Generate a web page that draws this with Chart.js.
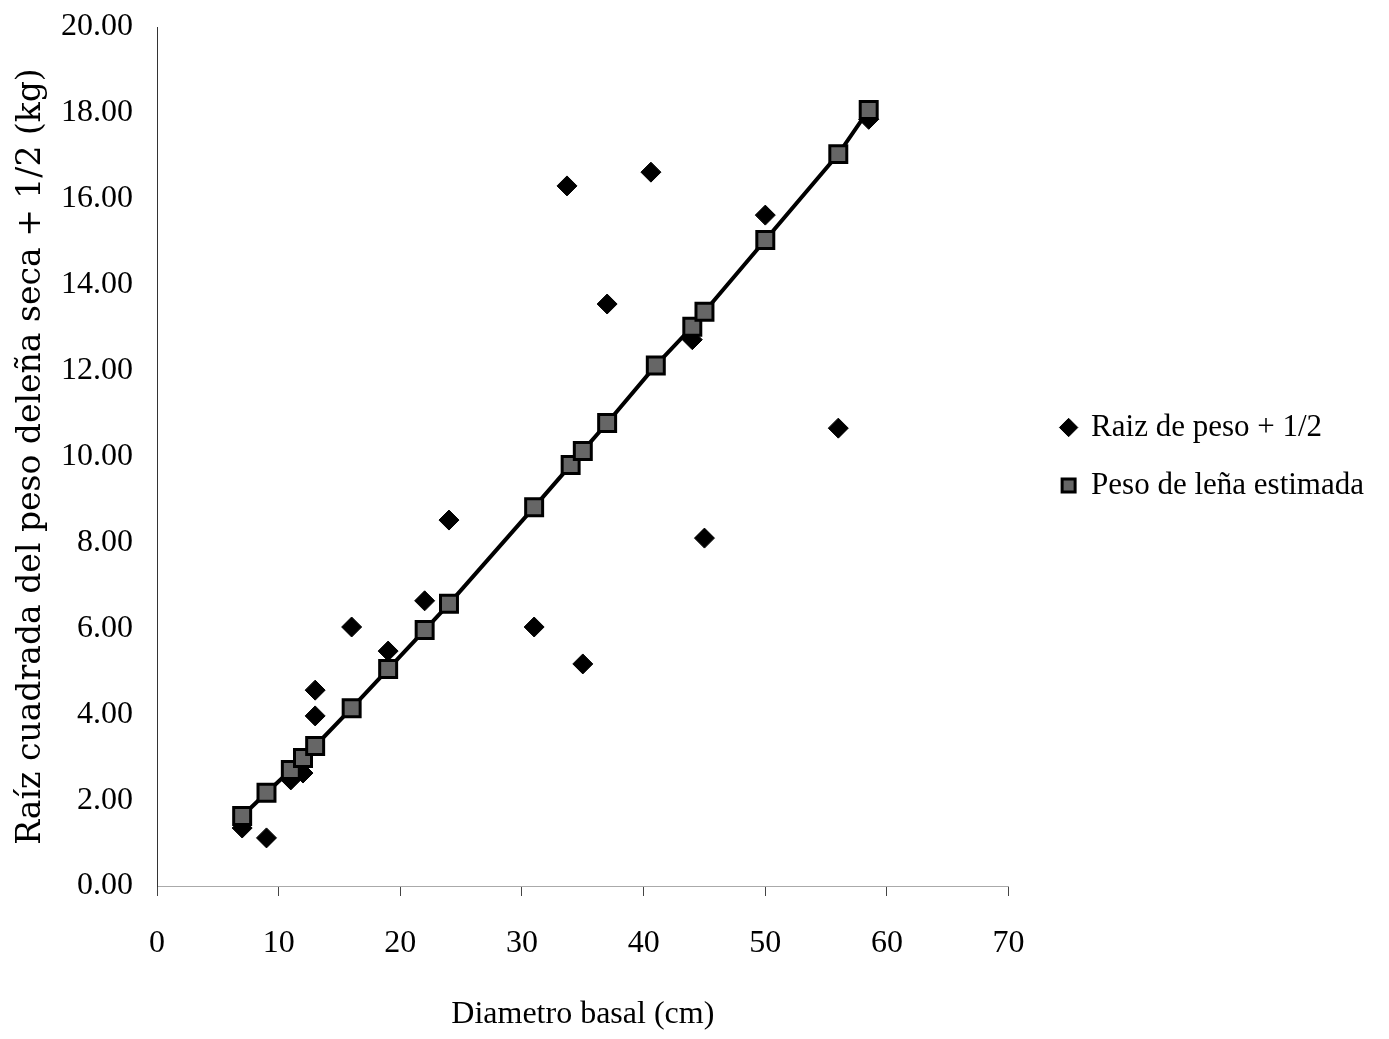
<!DOCTYPE html>
<html>
<head>
<meta charset="utf-8">
<script src="https://cdn.jsdelivr.net/npm/chart.js@4.4.1/dist/chart.umd.min.js"></script>
<style>
    html, body { margin: 0; padding: 0; background: #fff; }
    #wrap { width: 1389px; height: 1039px; }
</style>
</head>
<body>
<div id="wrap"><canvas id="chart" width="1389" height="1039"></canvas></div>
<script>
// Diametro basal (cm) and values
const diametro = [7, 9, 11, 12, 13, 13, 16, 19, 22, 24, 31, 33.7, 35, 37, 40.6, 44, 45, 50, 56, 58.5];
const raizPeso = [1.35, 1.12, 2.47, 2.63, 4.56, 3.96, 6.03, 5.47, 6.64, 8.52, 6.03, 16.30, 5.17, 13.55, 16.62, 12.72, 8.10, 15.62, 10.66, 17.85];

const diametroEst = [7, 9, 11, 12, 13, 16, 19, 22, 24, 31, 34, 35, 37, 41, 44, 45, 50, 56, 58.5];
const pesoEstimado = [1.63, 2.17, 2.70, 2.98, 3.26, 4.14, 5.05, 5.96, 6.57, 8.82, 9.80, 10.13, 10.78, 12.12, 13.02, 13.37, 15.04, 17.04, 18.07];

const xTicks = [0, 10, 20, 30, 40, 50, 60, 70];
const yTicks = [0, 2, 4, 6, 8, 10, 12, 14, 16, 18, 20];

const labelRaiz = 'Raiz de peso + 1/2';
const labelEst = 'Peso de leña estimada';
const xTitle = 'Diametro basal (cm)';
const yTitle = 'Raíz cuadrada del peso deleña seca + 1/2 (kg)';

const serif = "'Liberation Serif', 'DejaVu Serif', serif";
const wideSerif = "'DejaVu Serif', serif";

function toPoints(xs, ys) {
    return xs.map((x, i) => ({ x: x, y: ys[i] }));
}

const ctx = document.getElementById('chart').getContext('2d');
new Chart(ctx, {
    type: 'scatter',
    data: {
        datasets: [
            {
                label: labelRaiz,
                data: toPoints(diametro, raizPeso),
                pointStyle: 'rectRot',
                pointRadius: 10,
                pointBackgroundColor: '#000',
                pointBorderColor: '#000',
                pointBorderWidth: 1,
                showLine: false,
                order: 1
            },
            {
                label: labelEst,
                data: toPoints(diametroEst, pesoEstimado),
                pointStyle: 'rect',
                pointRadius: 12,
                pointBackgroundColor: '#666',
                pointBorderColor: '#000',
                pointBorderWidth: 3,
                borderColor: '#000',
                borderWidth: 4,
                showLine: true,
                order: 0
            }
        ]
    },
    options: {
        responsive: false,
        animation: false,
        layout: { padding: { left: 12, right: 15, top: 27, bottom: 5 } },
        plugins: {
            tooltip: { enabled: false },
            legend: {
                position: 'right',
                fullSize: false,
                maxWidth: 400,
                labels: {
                    usePointStyle: true,
                    boxWidth: 14,
                    boxHeight: 13,
                    padding: 27,
                    color: '#000',
                    font: { family: serif, size: 31 },
                    sort: (a, b) => a.datasetIndex - b.datasetIndex
                }
            }
        },
        scales: {
            x: {
                type: 'linear',
                min: 0,
                max: 70,
                afterBuildTicks: (axis) => { axis.ticks = xTicks.map(v => ({ value: v })); },
                afterFit: (axis) => { axis.height = 148; },
                ticks: {
                    color: '#000',
                    padding: 28,
                    font: { family: serif, size: 32 }
                },
                grid: {
                    display: true,
                    drawOnChartArea: false,
                    drawTicks: true,
                    tickLength: 10,
                    color: '#444',
                    lineWidth: 1
                },
                border: { display: true, color: '#aaa', width: 1 },
                title: {
                    display: true,
                    text: xTitle,
                    color: '#000',
                    font: { family: serif, size: 32 },
                    padding: { top: 5, bottom: 0 }
                }
            },
            y: {
                type: 'linear',
                min: 0,
                max: 20,
                afterBuildTicks: (axis) => { axis.ticks = yTicks.map(v => ({ value: v })); },
                afterFit: (axis) => {
                    axis.width = 145;
                    axis.paddingTop = 8;
                    axis.paddingBottom = 8;
                },
                ticks: {
                    color: '#000',
                    padding: 24,
                    font: { family: serif, size: 32 },
                    callback: (v) => Number(v).toFixed(2)
                },
                grid: { display: false, drawTicks: false },
                border: { display: true, color: '#333', width: 1 },
                title: {
                    display: true,
                    text: yTitle,
                    color: '#000',
                    font: { family: wideSerif, size: 33 },
                    padding: { top: 0, bottom: 0 }
                }
            },
            // empty spacer axis between plot and legend
            y2: {
                type: 'linear',
                position: 'right',
                display: true,
                min: 0,
                max: 20,
                afterFit: (axis) => {
                    axis.width = 26;
                    axis.paddingTop = 0;
                    axis.paddingBottom = 0;
                },
                ticks: { display: false },
                grid: { display: false, drawTicks: false },
                border: { display: false }
            }
        }
    }
});
</script>
</body>
</html>
